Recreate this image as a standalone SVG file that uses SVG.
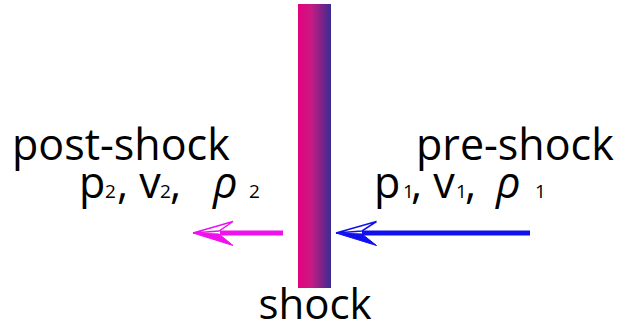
<svg xmlns="http://www.w3.org/2000/svg" width="633" height="327" viewBox="0 0 633 327">
<style>
.t{font-family:"Open Sans","Noto Sans",sans-serif;fill:#000;font-size:43px}
.v{font-size:43px}
.s{font-size:19px}
.g{font-style:italic}
</style>
<defs>
<linearGradient id="sg" x1="0" y1="0" x2="1" y2="0">
<stop offset="0" stop-color="#E4007F"/>
<stop offset="0.4" stop-color="#C81A82"/>
<stop offset="1" stop-color="#3B2C92"/>
</linearGradient>
</defs>
<rect width="633" height="327" fill="#fff"/>
<g id="shock">
<rect x="298" y="4" width="33" height="284" fill="url(#sg)"/>
<text class="t" x="315" y="319" text-anchor="middle" style="font-size:42px">shock</text>
</g>
<g id="post-shock">
<text class="t" x="12" y="160">post-shock</text>
<text class="t v" y="198"><tspan x="79">p</tspan><tspan class="s" x="105">2</tspan><tspan x="117">, v</tspan><tspan class="s" x="160">2</tspan><tspan x="170">,</tspan><tspan class="g" x="213">ρ</tspan><tspan class="s" x="249">2</tspan></text>
</g>
<g id="pre-shock">
<text class="t" x="416" y="160">pre-shock</text>
<text class="t v" y="198"><tspan x="374">p</tspan><tspan class="s" x="403">1</tspan><tspan x="411">, v</tspan><tspan class="s" x="456">1</tspan><tspan x="465">,</tspan><tspan class="g" x="496">ρ</tspan><tspan class="s" x="535">1</tspan></text>
</g>
<g id="connectors">
<line x1="283" y1="233" x2="220" y2="233" stroke="#EE11EE" stroke-width="5"/>
<path d="M193,233 L233,221.5 L219,231 Z" fill="#fff" stroke="#EE11EE" stroke-width="1.5"/>
<path d="M193,233 L219,234 L233,245.5 Z" fill="#EE11EE" stroke="#EE11EE" stroke-width="1"/>
<line x1="530" y1="233" x2="362" y2="233" stroke="#1010EE" stroke-width="5"/>
<path d="M336,233 L376.5,221.5 L362,231 Z" fill="#fff" stroke="#1010EE" stroke-width="1.5"/>
<path d="M336,233 L362,234 L376.5,245.5 Z" fill="#1010EE" stroke="#1010EE" stroke-width="1"/>
</g>
</svg>
